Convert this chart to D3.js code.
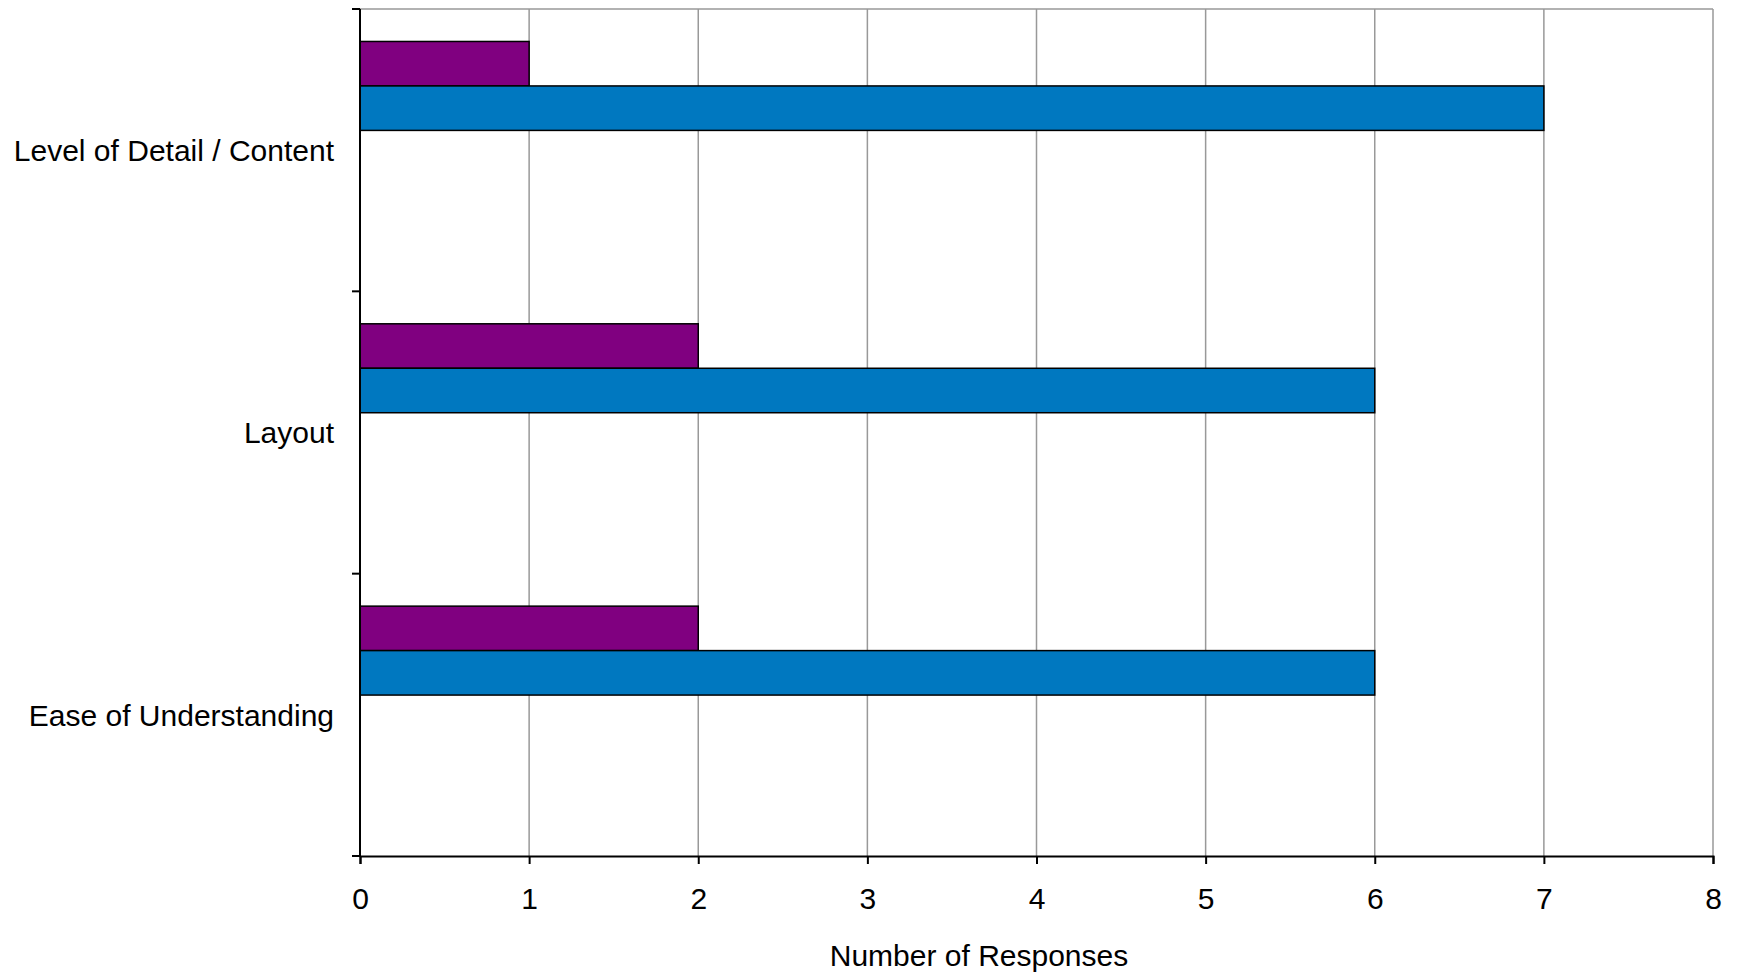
<!DOCTYPE html>
<html><head><meta charset="utf-8">
<script src="https://cdn.jsdelivr.net/npm/d3@7"></script>
<style>html,body{margin:0;padding:0;background:#fff;}svg{display:block;}</style>
</head><body>
<svg id="c" width="1737" height="976"></svg>
<script>
const categories = ["Level of Detail / Content", "Layout", "Ease of Understanding"];
const seriesNames = ["A", "B"];
const purpleValues = [1, 2, 2];
const blueValues = [7, 6, 6];
const xTicks = [0, 1, 2, 3, 4, 5, 6, 7, 8];
const xTitle = "Number of Responses";
const colors = ["#800080", "#0078C0"];

const svg = d3.select("#c");
const m = {left: 360, right: 1713, top: 9, bottom: 856};
const font = "Liberation Sans, Arial, sans-serif";
const fs = 30;

const x = d3.scaleLinear().domain([0, 8]).range([m.left, m.right]);
const y = d3.scaleBand().domain(categories).range([m.top, m.bottom]).padding(0);
const bw = y.bandwidth();
const sub = d3.scaleBand().domain(seriesNames).range([bw * 0.115, bw * 0.43]).padding(0);

// gridlines
svg.append("g").selectAll("line").data(xTicks.filter(d => d > 0)).join("line")
  .attr("x1", d => x(d)).attr("x2", d => x(d))
  .attr("y1", m.top).attr("y2", m.bottom)
  .attr("stroke", "#999").attr("stroke-width", 1.5);
svg.append("line").attr("x1", m.left).attr("x2", m.right).attr("y1", m.top).attr("y2", m.top)
  .attr("stroke", "#999").attr("stroke-width", 1.5);

// bars
const data = categories.map((c, i) => ({c, vals: [purpleValues[i], blueValues[i]]}));
const g = svg.append("g");
data.forEach(d => {
  d.vals.forEach((v, j) => {
    g.append("rect")
      .attr("x", x(0)).attr("width", x(v) - x(0))
      .attr("y", y(d.c) + sub(seriesNames[j])).attr("height", sub.bandwidth())
      .attr("fill", colors[j]).attr("stroke", "#000").attr("stroke-width", 1.5);
  });
});

// x axis
const xAxis = d3.axisBottom(x).tickValues(xTicks).tickSize(8).tickPadding(24).tickFormat(d3.format("d"));
const gx = svg.append("g").attr("transform", `translate(0,${m.bottom})`).call(xAxis);
gx.select(".domain").attr("stroke", "#000").attr("stroke-width", 2);
gx.selectAll(".tick line").attr("stroke", "#000").attr("stroke-width", 2);
gx.selectAll("text").attr("font-family", font).attr("font-size", fs).attr("fill", "#000");

// y axis: ticks at category boundaries
const gy = svg.append("g").attr("transform", `translate(${m.left},0)`);
gy.append("line").attr("x1", 0).attr("x2", 0).attr("y1", m.top).attr("y2", m.bottom)
  .attr("stroke", "#000").attr("stroke-width", 2);
const bounds = categories.map(c => y(c)).concat([m.bottom]);
gy.selectAll("line.t").data(bounds).join("line").attr("class", "t")
  .attr("x1", -8).attr("x2", 0).attr("y1", d => d).attr("y2", d => d)
  .attr("stroke", "#000").attr("stroke-width", 2);
gy.selectAll("text").data(categories).join("text")
  .attr("x", -26).attr("y", d => y(d) + bw / 2)
  .attr("dy", "0.36em").attr("text-anchor", "end")
  .attr("font-family", font).attr("font-size", fs).attr("fill", "#000")
  .text(d => d);

svg.append("text").attr("x", 979).attr("y", 966).attr("text-anchor", "middle")
  .attr("font-family", font).attr("font-size", fs).attr("fill", "#000").text(xTitle);
</script>
</body></html>
